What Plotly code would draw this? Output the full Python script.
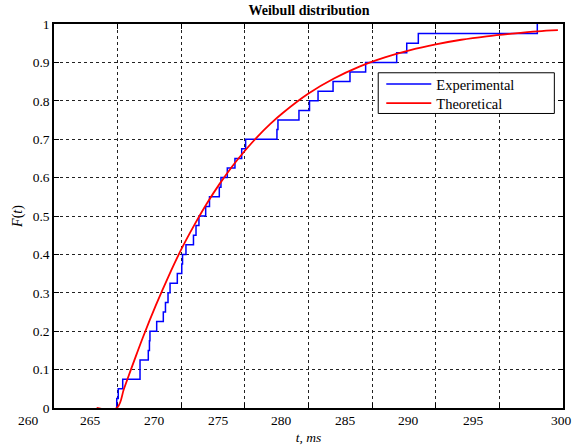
import plotly.graph_objects as go

exp_t = [264.93, 265.05, 265.40, 266.76, 266.76, 267.41, 267.50, 267.54,
         268.07, 268.59, 268.76, 268.96, 269.12, 269.69, 270.04, 270.10,
         270.37, 270.96, 271.16, 271.39, 271.92, 272.22, 272.99, 273.12,
         273.62, 274.22, 274.75, 275.06, 277.52, 277.60, 279.25, 280.08,
         280.75, 281.93, 283.26, 284.49, 286.93, 287.72, 288.63, 297.98]
exp_F = [0.025, 0.05, 0.075, 0.1, 0.125, 0.15, 0.175, 0.2,
         0.225, 0.25, 0.275, 0.3, 0.325, 0.35, 0.375, 0.4,
         0.425, 0.45, 0.475, 0.5, 0.525, 0.55, 0.575, 0.6,
         0.625, 0.65, 0.675, 0.7, 0.725, 0.75, 0.775, 0.8,
         0.825, 0.85, 0.875, 0.9, 0.925, 0.95, 0.975, 1.0]

# Theoretical curve points
th_t = [263.35, 264.93, 265.5, 266.0, 266.5, 267.0, 268.0, 269.0, 270.0,
        271.0, 272.0, 273.0, 274.0, 275.0, 276.0, 277.0, 278.0, 280.0,
        282.0, 284.0, 286.0, 288.0, 290.0, 292.0, 294.0, 296.0, 298.0, 299.6]
th_F = [0.0, 0.0, 0.050, 0.096, 0.141, 0.185, 0.267, 0.343, 0.413,
        0.475, 0.532, 0.583, 0.629, 0.670, 0.707, 0.740, 0.769, 0.819,
        0.858, 0.889, 0.913, 0.932, 0.947, 0.959, 0.968, 0.975, 0.981, 0.984]

x_grid = [265, 270, 275, 280, 285, 290, 295]
x_tick_labels = ["260", "265", "270", "275", "280", "285", "290", "295", "300"]
x_tick_values = [260, 265, 270, 275, 280, 285, 290, 295, 300]
y_ticks = [0, 0.1, 0.2, 0.3, 0.4, 0.5, 0.6, 0.7, 0.8, 0.9, 1.0]
y_tick_labels = ["0", "0.1", "0.2", "0.3", "0.4", "0.5", "0.6", "0.7", "0.8", "0.9", "1"]

# label placement offsets (as drawn in the source export), in axis units
label_shift = [-2.02, -2.12, -2.12, -2.09, -2.11, -2.13, -2.16, -2.05, -0.1]

X0, X1 = 260, 300
SERIF = "Liberation Serif, Times New Roman, serif"

fig = go.Figure()
fig.add_trace(go.Scatter(
    x=[exp_t[0]] + exp_t, y=[0.0] + exp_F, mode="lines", line_shape="hv",
    line=dict(color="#0000ff", width=1.5), name="Experimental",
    legend="legend"))
fig.add_trace(go.Scatter(
    x=th_t, y=th_F, mode="lines", line_shape="spline",
    line=dict(color="#ff0000", width=1.8), name="Theoretical",
    legend="legend2"))

for lab, v, s in zip(x_tick_labels, x_tick_values, label_shift):
    fig.add_annotation(x=(v + s - X0) / (X1 - X0), xref="paper",
                       y=0, yref="paper", yshift=-12,
                       text=lab, showarrow=False, yanchor="middle",
                       xanchor="center",
                       font=dict(family=SERIF, size=13.5, color="black"))

# legend frame
fig.add_shape(type="rect", xref="paper", yref="paper",
              x0=0.637, x1=0.983, y0=0.767, y1=0.873, layer="above",
              fillcolor="white", line=dict(color="black", width=1))

leg_common = dict(xanchor="left", yanchor="middle",
                  bgcolor="rgba(0,0,0,0)", borderwidth=0,
                  font=dict(family=SERIF, size=14.5, color="black"),
                  itemwidth=45)

fig.update_layout(
    width=583, height=448,
    margin=dict(l=54, r=20, t=24, b=40),
    paper_bgcolor="white", plot_bgcolor="white",
    title=dict(text="<b>Weibull distribution</b>", x=0.53, xanchor="center",
               y=1 - 10 / 448, yanchor="middle",
               font=dict(family=SERIF, size=14, color="black")),
    font=dict(family=SERIF, size=13.5, color="black"),
    showlegend=True,
    legend=dict(x=0.643, y=0.8438, **leg_common),
    legend2=dict(x=0.643, y=0.7935, **leg_common),
    xaxis=dict(range=[X0, X1], tickvals=x_grid, showticklabels=False,
               automargin=False, layer="below traces",
               showgrid=True, gridcolor="#222", griddash="3px,3px", gridwidth=1,
               ticks="inside", ticklen=5, tickcolor="black",
               showline=True, linecolor="black", linewidth=1.5, mirror="ticks",
               zeroline=False,
               title=dict(text="<i>t, ms</i>", standoff=24,
                          font=dict(family=SERIF, size=13.5))),
    yaxis=dict(range=[0, 1], tickvals=y_ticks, ticktext=y_tick_labels,
               automargin=False,
               tickfont=dict(family=SERIF, size=13.5, color="black"),
               showgrid=True, gridcolor="#222", griddash="3px,3px", gridwidth=1,
               ticks="inside", ticklen=5, tickcolor="black",
               showline=True, linecolor="black", linewidth=1.5, mirror="ticks",
               zeroline=False,
               title=dict(text="<i>F</i>(<i>t</i>)", standoff=7,
                          font=dict(family=SERIF, size=14))),
)

fig.write_html("out.html", config={"displayModeBar": False},
               post_script="document.body.style.margin='0';"
                           "document.body.style.padding='0';")
